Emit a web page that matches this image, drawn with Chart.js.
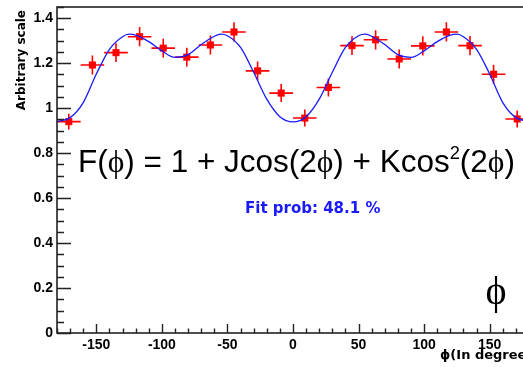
<!DOCTYPE html>
<html>
<head>
<meta charset="utf-8">
<script src="https://cdn.jsdelivr.net/npm/chart.js@4.4.1/dist/chart.umd.min.js"></script>
<style>
  html, body { margin: 0; padding: 0; background: #fff; overflow: hidden; }
  #wrap { width: 523px; height: 367px; overflow: hidden; }
</style>
</head>
<body>
<div id="wrap"><canvas id="chart" width="535" height="367"></canvas></div>
<script>
/* global Chart */

// ─── Data ────────────────────────────────────────────────────────────────────

const phiBins = [-171, -153, -135, -117, -99, -81, -63, -45, -27, -9,
                 9, 27, 45, 63, 81, 99, 117, 135, 153, 171];
const yieldVals = [0.940, 1.192, 1.247, 1.318, 1.267, 1.227, 1.281, 1.339, 1.166, 1.067,
                   0.956, 1.092, 1.278, 1.304, 1.219, 1.277, 1.339, 1.278, 1.151, 0.952];
const yieldErrs = [0.035, 0.042, 0.042, 0.043, 0.042, 0.042, 0.042, 0.043, 0.042, 0.040,
                   0.038, 0.040, 0.042, 0.043, 0.042, 0.043, 0.043, 0.043, 0.042, 0.038];
const binHalfWidths = phiBins.map(() => 9);

// fitted curve
const fitPhi = [-180, -170, -160, -150, -140, -130, -125, -120, -110, -100, -90, -80, -70, -60, -55, -50,
                -40, -30, -20, -10, 0, 10, 20, 30, 40, 50, 55, 60, 70, 80, 90, 100, 110, 120, 125, 130,
                140, 150, 160, 170, 180];
const fitVals = [0.940, 0.958, 1.025, 1.152, 1.262, 1.318, 1.329, 1.325, 1.296, 1.255, 1.226, 1.238,
                 1.283, 1.320, 1.329, 1.322, 1.270, 1.160, 1.040, 0.962, 0.939, 0.962, 1.040, 1.160,
                 1.270, 1.322, 1.329, 1.320, 1.283, 1.238, 1.226, 1.255, 1.296, 1.325, 1.329, 1.318,
                 1.262, 1.152, 1.025, 0.958, 0.940];

const xTickVals = [-150, -100, -50, 0, 50, 100, 150];
const yTickVals = [0, 0.2, 0.4, 0.6, 0.8, 1, 1.2, 1.4];

const X_MIN = -180, X_MAX = 180, Y_MIN = 0, Y_MAX = 1.45;

// ─── Styling ─────────────────────────────────────────────────────────────────

const SANS = "'Liberation Sans', Arial, Helvetica, sans-serif";
const HEAVY = "'DejaVu Sans', 'Liberation Sans', sans-serif";
const PHI_FONT = "'Liberation Serif', 'DejaVu Serif', serif";
const PHI = "\u03D5";
const RED = "#ff0000";
const BLUE = "#1a1aff";
const AXIS = "#222";

// ─── Plugin: ROOT-style frame, ticks, error bars and annotations ─────────────

const rootStyle = {
  id: "rootStyle",

  beforeDatasetsDraw(chart) {
    const { ctx, scales: { x, y } } = chart;
    ctx.save();
    ctx.strokeStyle = RED;
    ctx.lineWidth = 1.6;
    ctx.beginPath();
    phiBins.forEach((phi, i) => {
      const cx = x.getPixelForValue(phi);
      const cy = y.getPixelForValue(yieldVals[i]);
      const x0 = x.getPixelForValue(phi - binHalfWidths[i]);
      const x1 = x.getPixelForValue(phi + binHalfWidths[i]);
      const y0 = y.getPixelForValue(yieldVals[i] - yieldErrs[i]);
      const y1 = y.getPixelForValue(yieldVals[i] + yieldErrs[i]);
      ctx.moveTo(x0, cy); ctx.lineTo(x1, cy);
      ctx.moveTo(cx, y0); ctx.lineTo(cx, y1);
    });
    ctx.stroke();
    ctx.restore();
  },

  afterDraw(chart) {
    const { ctx, chartArea: a, scales: { x, y } } = chart;
    ctx.save();

    // frame
    ctx.strokeStyle = AXIS;
    ctx.lineWidth = 1.6;
    ctx.strokeRect(a.left, a.top, a.right - a.left, a.bottom - a.top);

    // y ticks (major 0.2, minor 0.05), pointing into the frame
    ctx.lineWidth = 1.4;
    ctx.beginPath();
    for (let v = Y_MIN; v <= Y_MAX + 1e-9; v += 0.05) {
      const py = Math.round(y.getPixelForValue(v)) + 0.5;
      const major = Math.abs(v / 0.2 - Math.round(v / 0.2)) < 1e-6;
      ctx.moveTo(a.left, py);
      ctx.lineTo(a.left + (major ? 14 : 7), py);
    }
    // x ticks (major 50, minor 10)
    for (let v = X_MIN; v <= X_MAX; v += 10) {
      const px = Math.round(x.getPixelForValue(v)) + 0.5;
      ctx.moveTo(px, a.bottom);
      ctx.lineTo(px, a.bottom - (v % 50 === 0 ? 9 : 4.5));
    }
    ctx.stroke();

    // axis titles
    ctx.fillStyle = "#000";
    ctx.font = `bold 12px ${HEAVY}`;
    ctx.save();
    ctx.translate(21.5, 10);
    ctx.rotate(-Math.PI / 2);
    ctx.textAlign = "right";
    ctx.textBaseline = "middle";
    ctx.fillText("Arbitrary scale", 0, 0);
    ctx.restore();

    ctx.textAlign = "left";
    ctx.textBaseline = "alphabetic";
    ctx.font = `bold 13px ${HEAVY}`;
    ctx.fillText(`${PHI}(In degree)`, 440, 359);

    // fit formula
    drawFormula(ctx, 78, 172, 437);

    // fit probability
    ctx.fillStyle = BLUE;
    ctx.font = `bold 15px ${HEAVY}`;
    ctx.textAlign = "left";
    ctx.fillText("Fit prob: 48.1 %", 245, 213);

    // big phi in the corner
    ctx.fillStyle = "#000";
    ctx.font = `40px ${PHI_FONT}`;
    ctx.textAlign = "center";
    ctx.fillText(PHI, 496, 304);

    ctx.restore();
  },
};

function drawFormula(ctx, left, base, targetWidth) {
  const parts = [
    { t: "F(", f: "sans" }, { t: PHI, f: "phi" },
    { t: ") = 1 + Jcos(2", f: "sans" }, { t: PHI, f: "phi" },
    { t: ") + Kcos", f: "sans" }, { t: "2", f: "sup" },
    { t: "(2", f: "sans" }, { t: PHI, f: "phi" }, { t: ")", f: "sans" },
  ];
  const fontFor = (kind, s) => kind === "phi" ? `${s}px ${PHI_FONT}`
    : kind === "sup" ? `${s * 0.58}px ${SANS}` : `${s}px ${SANS}`;

  const measure = (s) => parts.reduce((w, p) => {
    ctx.font = fontFor(p.f, s);
    return w + ctx.measureText(p.t).width;
  }, 0);
  const size = 30 * targetWidth / measure(30);

  ctx.fillStyle = "#000";
  ctx.textAlign = "left";
  ctx.textBaseline = "alphabetic";
  let px = left;
  for (const p of parts) {
    ctx.font = fontFor(p.f, size);
    ctx.fillText(p.t, px, p.f === "sup" ? base - size * 0.42 : base);
    px += ctx.measureText(p.t).width;
  }
}

// ─── Chart ───────────────────────────────────────────────────────────────────

const tickFont = { family: SANS, size: 14, weight: "bold" };

new Chart(document.getElementById("chart"), {
  type: "scatter",
  data: {
    datasets: [
      {
        type: "line",
        label: "fit",
        data: fitPhi.map((p, i) => ({ x: p, y: fitVals[i] })),
        borderColor: BLUE,
        borderWidth: 1.3,
        pointRadius: 0,
        cubicInterpolationMode: "monotone",
        fill: false,
      },
      {
        label: "data",
        data: phiBins.map((p, i) => ({ x: p, y: yieldVals[i] })),
        pointStyle: "rect",
        pointRadius: 5,
        pointBorderWidth: 0,
        backgroundColor: RED,
        borderColor: RED,
      },
    ],
  },
  options: {
    responsive: false,
    devicePixelRatio: 1,
    animation: false,
    events: [],
    layout: { padding: { top: 7, right: 6, left: 0, bottom: 0 } },
    plugins: { legend: { display: false }, tooltip: { enabled: false } },
    scales: {
      x: {
        type: "linear",
        min: X_MIN,
        max: X_MAX,
        grid: { display: false, drawTicks: false },
        border: { display: false },
        afterBuildTicks: (s) => { s.ticks = xTickVals.map((v) => ({ value: v })); },
        afterFit: (s) => { s.height = 34; s.paddingLeft = 0; s.paddingRight = 0; },
        ticks: { font: tickFont, color: "#000", padding: 4, maxRotation: 0, callback: (v) => String(v) },
      },
      y: {
        type: "linear",
        min: Y_MIN,
        max: Y_MAX,
        grid: { display: false, drawTicks: false },
        border: { display: false },
        afterBuildTicks: (s) => { s.ticks = yTickVals.map((v) => ({ value: v })); },
        afterFit: (s) => { s.width = 57; s.paddingTop = 0; s.paddingBottom = 0; },
        ticks: { font: tickFont, color: "#000", padding: 4, callback: (v) => String(v) },
      },
    },
  },
  plugins: [rootStyle],
});
</script>
</body>
</html>
